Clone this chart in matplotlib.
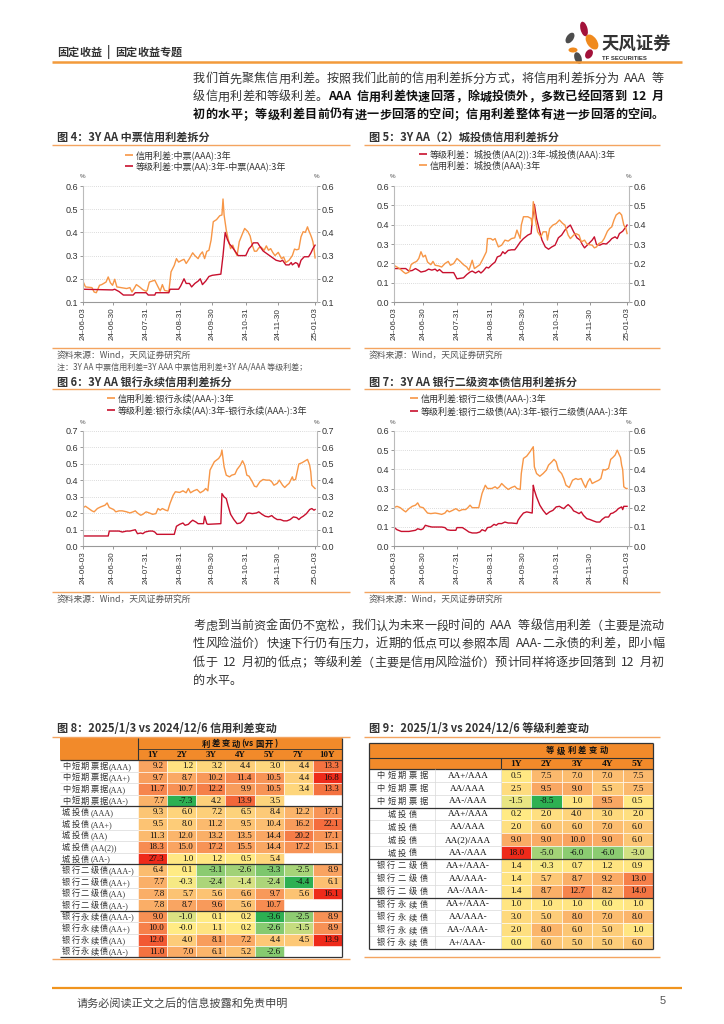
import datetime as dt
import matplotlib
matplotlib.use('Agg')
import matplotlib.pyplot as plt
import matplotlib.dates as mdates
from matplotlib.patches import Rectangle, Ellipse
from matplotlib.lines import Line2D
import matplotlib.colors as mcolors

plt.rcParams['font.family'] = ['Noto Sans CJK SC', 'DejaVu Sans']

# ======================= DATA =======================
tick_dates = ['06-03', '06-30', '07-31', '08-31', '09-30', '10-31', '11-30', '01-03']

# Fig 4: 3Y AA MTN
c4_credit_dates = ['06-03','06-05','06-11','06-13','06-15','06-18','06-20','06-24','06-26','06-28','06-30','07-02','07-04','07-13','07-16','07-18','07-22','07-25','07-28','07-31','08-01','08-03','08-08','08-10','08-13','08-15','08-17','08-21','08-23','08-26','08-28','08-30','09-02','09-04','09-06','09-09','09-12','09-14','09-17','09-19','09-21','09-23','09-25','09-27','09-29','10-01','10-04','10-07','10-09','10-10','10-11','10-13','10-15','10-17','10-19','10-21','10-23','10-25','10-28','10-30','11-02','11-04','11-06','11-08','11-10','11-12','11-14','11-17','11-19','11-21','11-23','11-25','11-27','11-30','12-03','12-05','12-07','12-10','12-13','12-15','12-17','12-19','12-21','12-23','12-25','12-27','12-28','12-30','12-31','01-01','01-02','01-03']
c4_credit = [0.186,0.165,0.162,0.143,0.14,0.172,0.175,0.186,0.208,0.183,0.172,0.198,0.165,0.158,0.162,0.143,0.175,0.165,0.153,0.146,0.15,0.186,0.194,0.175,0.147,0.175,0.15,0.146,0.23,0.258,0.287,0.272,0.28,0.284,0.266,0.287,0.312,0.30,0.287,0.305,0.316,0.287,0.318,0.323,0.367,0.446,0.455,0.472,0.475,0.544,0.475,0.41,0.367,0.33,0.345,0.319,0.30,0.36,0.395,0.417,0.403,0.385,0.345,0.319,0.319,0.333,0.337,0.323,0.342,0.323,0.33,0.313,0.30,0.314,0.287,0.294,0.27,0.28,0.30,0.328,0.325,0.328,0.381,0.403,0.40,0.424,0.41,0.388,0.375,0.36,0.33,0.29]
c4_grade_dates = ['06-03','06-30','07-02','07-06','07-10','07-19','07-21','07-31','08-02','08-08','08-09','08-21','08-22','08-30','09-01','09-04','09-06','09-09','09-11','09-14','09-17','09-19','09-21','09-24','09-27','09-30','10-08','10-10','10-12','10-14','10-16','10-18','10-21','10-24','10-31','11-03','11-05','11-07','11-11','11-13','11-16','11-19','11-22','11-25','11-28','12-02','12-04','12-07','12-10','12-12','12-13','12-16','12-18','12-19','12-21','12-24','12-28','12-30','01-01','01-03']
c4_grade = [0.155,0.152,0.155,0.145,0.13,0.13,0.14,0.14,0.13,0.13,0.14,0.14,0.155,0.155,0.17,0.20,0.18,0.18,0.165,0.18,0.19,0.20,0.175,0.19,0.21,0.215,0.22,0.30,0.40,0.37,0.35,0.34,0.32,0.30,0.30,0.33,0.34,0.355,0.355,0.34,0.32,0.31,0.30,0.29,0.28,0.275,0.28,0.26,0.26,0.27,0.26,0.27,0.265,0.25,0.28,0.295,0.295,0.31,0.33,0.345]

# Fig 5: 3Y AA(2) LGFV
c5_grade_dates = ['06-03','06-14','06-17','06-20','06-23','06-26','06-28','07-02','07-05','07-08','07-11','07-13','07-15','07-18','07-28','07-31','08-06','08-09','08-12','08-14','08-17','08-20','08-22','08-24','08-27','08-29','09-01','09-04','09-06','09-09','09-11','09-13','09-16','09-19','09-22','09-24','09-27','09-30','10-04','10-07','10-08','10-10','10-12','10-15','10-17','10-20','10-23','10-26','10-29','11-01','11-04','11-07','11-10','11-12','11-15','11-18','11-21','11-23','11-25','11-28','12-02','12-04','12-06','12-09','12-12','12-15','12-18','12-20','12-23','12-25','12-27','12-30','01-02','01-03']
c5_grade = [0.173,0.173,0.16,0.163,0.173,0.163,0.155,0.16,0.17,0.165,0.17,0.16,0.168,0.152,0.152,0.12,0.125,0.142,0.155,0.16,0.15,0.16,0.15,0.16,0.18,0.176,0.193,0.207,0.233,0.24,0.26,0.25,0.267,0.27,0.27,0.285,0.31,0.328,0.346,0.354,0.42,0.505,0.432,0.363,0.32,0.285,0.273,0.285,0.294,0.332,0.346,0.372,0.389,0.398,0.363,0.332,0.32,0.297,0.28,0.297,0.32,0.337,0.297,0.294,0.302,0.30,0.315,0.328,0.337,0.328,0.354,0.366,0.389,0.398]
c5_credit_dates = ['06-03','06-06','06-09','06-12','06-14','06-17','06-19','06-21','06-24','06-26','06-28','06-30','07-02','07-04','07-07','07-09','07-11','07-14','07-17','07-20','07-23','07-25','07-28','07-31','08-03','08-06','08-09','08-11','08-14','08-16','08-18','08-21','08-24','08-27','08-28','08-31','09-02','09-04','09-07','09-10','09-13','09-16','09-19','09-22','09-24','09-27','09-28','09-30','10-04','10-07','10-08','10-09','10-11','10-13','10-16','10-18','10-21','10-22','10-24','10-27','10-30','11-02','11-05','11-07','11-10','11-12','11-15','11-17','11-20','11-22','11-25','11-27','11-29','12-02','12-04','12-06','12-08','12-11','12-13','12-16','12-18','12-20','12-22','12-24','12-27','12-29','12-30','12-31','01-02','01-03']
c5_credit = [0.19,0.181,0.17,0.155,0.147,0.155,0.193,0.202,0.21,0.225,0.26,0.233,0.242,0.207,0.193,0.21,0.19,0.187,0.181,0.199,0.21,0.19,0.199,0.225,0.21,0.193,0.181,0.164,0.216,0.173,0.181,0.193,0.225,0.26,0.328,0.328,0.32,0.328,0.285,0.294,0.32,0.315,0.328,0.332,0.372,0.328,0.398,0.441,0.441,0.432,0.398,0.519,0.424,0.363,0.337,0.363,0.363,0.32,0.38,0.398,0.406,0.424,0.406,0.398,0.346,0.328,0.346,0.354,0.346,0.311,0.32,0.302,0.297,0.294,0.28,0.285,0.302,0.311,0.328,0.366,0.38,0.389,0.424,0.45,0.463,0.45,0.424,0.398,0.38,0.354]

# Fig 6: 3Y AA bank perpetual
c6_credit_dates = ['06-03','06-05','06-08','06-11','06-13','06-16','06-19','06-23','06-25','06-27','06-29','07-01','07-03','07-06','07-09','07-13','07-16','07-19','07-21','07-23','07-26','07-28','07-31','08-03','08-06','08-09','08-11','08-13','08-15','08-18','08-20','08-22','08-25','08-27','08-31','09-03','09-06','09-08','09-10','09-13','09-16','09-19','09-22','09-24','09-26','09-28','10-02','10-06','10-08','10-09','10-11','10-13','10-16','10-18','10-21','10-23','10-26','10-28','10-30','11-01','11-03','11-06','11-08','11-10','11-13','11-16','11-19','11-22','11-24','11-26','11-29','12-01','12-04','12-06','12-08','12-10','12-13','12-14','12-16','12-19','12-22','12-25','12-27','12-29','12-30','12-31','01-02','01-03']
c6_credit = [0.234,0.242,0.228,0.214,0.208,0.228,0.238,0.248,0.262,0.234,0.228,0.222,0.208,0.214,0.214,0.208,0.201,0.208,0.214,0.201,0.187,0.193,0.208,0.201,0.193,0.197,0.228,0.218,0.228,0.218,0.214,0.258,0.309,0.33,0.326,0.336,0.324,0.35,0.324,0.336,0.344,0.324,0.336,0.35,0.336,0.462,0.513,0.533,0.553,0.584,0.482,0.431,0.421,0.431,0.437,0.466,0.492,0.519,0.492,0.431,0.425,0.391,0.364,0.36,0.391,0.405,0.401,0.401,0.391,0.37,0.381,0.401,0.37,0.356,0.37,0.381,0.421,0.401,0.405,0.499,0.507,0.519,0.527,0.492,0.452,0.37,0.356,0.35]
c6_grade_dates = ['06-03','06-26','06-27','07-06','07-09','07-13','07-16','07-21','07-23','07-26','07-28','07-30','08-03','08-06','08-08','08-10','08-26','08-28','08-31','09-03','09-05','09-08','09-10','09-12','09-15','09-17','09-22','09-23','09-25','09-26','10-08','10-09','10-11','10-13','10-15','10-17','10-20','10-23','10-26','10-29','11-01','11-03','11-06','11-10','11-12','11-15','11-18','11-21','11-24','11-26','11-29','12-02','12-05','12-08','12-11','12-14','12-17','12-19','12-21','12-23','12-26','12-29','12-31','01-02','01-03']
c6_grade = [0.061,0.061,0.091,0.091,0.085,0.091,0.091,0.099,0.075,0.079,0.075,0.085,0.091,0.091,0.085,0.071,0.071,0.12,0.132,0.14,0.126,0.132,0.146,0.157,0.146,0.136,0.136,0.181,0.136,0.132,0.136,0.319,0.299,0.289,0.238,0.193,0.161,0.136,0.14,0.157,0.197,0.201,0.197,0.201,0.208,0.193,0.181,0.177,0.185,0.173,0.161,0.161,0.153,0.153,0.161,0.177,0.173,0.161,0.173,0.181,0.197,0.222,0.228,0.218,0.222]

# Fig 7: 3Y AA bank tier-2
c7_credit_dates = ['06-03','06-06','06-09','06-12','06-14','06-17','06-20','06-23','06-25','06-27','06-30','07-02','07-04','07-07','07-11','07-14','07-17','07-20','07-22','07-24','07-27','07-30','08-02','08-05','08-08','08-10','08-12','08-14','08-18','08-20','08-23','08-26','08-28','09-01','09-04','09-06','09-08','09-10','09-13','09-16','09-19','09-22','09-24','09-27','09-28','09-30','10-03','10-06','10-09','10-10','10-12','10-15','10-18','10-21','10-23','10-26','10-28','10-30','11-01','11-04','11-06','11-08','11-11','11-14','11-17','11-19','11-22','11-24','11-26','11-28','11-30','12-02','12-05','12-08','12-10','12-12','12-14','12-17','12-19','12-21','12-23','12-25','12-27','12-28','12-29','12-30','12-31','01-02','01-03']
c7_credit = [0.20,0.207,0.20,0.186,0.178,0.195,0.207,0.213,0.225,0.204,0.20,0.186,0.172,0.169,0.172,0.169,0.165,0.172,0.186,0.178,0.186,0.195,0.183,0.19,0.19,0.20,0.213,0.20,0.20,0.20,0.274,0.317,0.30,0.30,0.309,0.30,0.309,0.326,0.309,0.295,0.305,0.312,0.30,0.295,0.378,0.457,0.469,0.492,0.518,0.413,0.378,0.364,0.378,0.396,0.422,0.439,0.452,0.439,0.396,0.378,0.352,0.317,0.305,0.343,0.352,0.347,0.352,0.326,0.305,0.335,0.352,0.326,0.335,0.343,0.352,0.399,0.396,0.405,0.452,0.462,0.474,0.50,0.474,0.462,0.422,0.399,0.309,0.30,0.30]
c7_grade_dates = ['06-03','06-06','06-10','06-17','06-23','06-25','06-28','06-30','07-02','07-05','07-08','07-17','07-20','07-22','07-25','07-30','07-31','08-05','08-08','08-11','08-14','08-18','08-21','08-23','08-26','08-28','08-31','09-03','09-05','09-07','09-10','09-13','09-16','09-19','09-24','09-25','09-27','09-30','10-03','10-08','10-09','10-10','10-12','10-15','10-18','10-21','10-24','10-27','10-30','11-02','11-04','11-06','11-08','11-10','11-13','11-15','11-17','11-20','11-22','11-24','11-27','11-30','12-03','12-06','12-09','12-11','12-14','12-17','12-19','12-21','12-24','12-26','12-29','12-30','12-31','01-02','01-03']
c7_grade = [0.099,0.085,0.076,0.076,0.082,0.09,0.085,0.09,0.108,0.103,0.099,0.099,0.096,0.085,0.082,0.082,0.096,0.096,0.085,0.073,0.068,0.068,0.073,0.085,0.078,0.096,0.099,0.113,0.108,0.117,0.117,0.125,0.12,0.12,0.117,0.134,0.151,0.172,0.178,0.172,0.317,0.291,0.256,0.213,0.186,0.165,0.178,0.186,0.204,0.207,0.20,0.195,0.207,0.216,0.20,0.183,0.178,0.169,0.178,0.16,0.143,0.138,0.131,0.125,0.125,0.138,0.151,0.151,0.169,0.172,0.183,0.195,0.204,0.19,0.207,0.207,0.207]

# Table 8: credit spread change (vs CDB), bp
t8_cols = ['1Y', '2Y', '3Y', '4Y', '5Y', '7Y', '10Y']
t8_rows = ['中短期票据(AAA)', '中短期票据(AA+)', '中短期票据(AA)', '中短期票据(AA-)',
           '城投债(AAA)', '城投债(AA+)', '城投债(AA)', '城投债(AA(2))', '城投债(AA-)',
           '银行二级债(AAA-)', '银行二级债(AA+)', '银行二级债(AA)', '银行二级债(AA-)',
           '银行永续债(AAA-)', '银行永续债(AA+)', '银行永续债(AA)', '银行永续债(AA-)']
t8_vals = [
    [9.2, 1.2, 3.2, 4.4, 3.0, 4.4, 13.3],
    [9.7, 8.7, 10.2, 11.4, 10.5, 4.4, 16.8],
    [11.7, 10.7, 12.2, 9.9, 10.5, 3.4, 13.3],
    [7.7, -7.3, 4.2, 13.9, 3.5, None, None],
    [9.3, 6.0, 7.2, 6.5, 8.4, 12.2, 17.1],
    [9.5, 8.0, 11.2, 9.5, 10.4, 16.2, 22.1],
    [11.3, 12.0, 13.2, 13.5, 14.4, 20.2, 17.1],
    [18.3, 15.0, 17.2, 15.5, 14.4, 17.2, 15.1],
    [27.3, 1.0, 1.2, 0.5, 5.4, None, None],
    [6.4, 0.1, -3.1, -2.6, -3.3, -2.5, 8.9],
    [7.7, -0.3, -2.4, -1.4, -2.4, -4.4, 6.1],
    [7.8, 5.7, 5.6, 6.6, 9.7, 5.6, 16.1],
    [7.8, 8.7, 9.6, 5.6, 10.7, None, None],
    [9.0, -1.0, 0.1, 0.2, -3.6, -2.5, 8.9],
    [10.0, -0.0, 1.1, 0.2, -2.6, -1.5, 8.9],
    [12.0, 4.0, 8.1, 7.2, 4.4, 4.5, 13.9],
    [11.0, 7.0, 6.1, 5.2, -2.6, None, None],
]
t8_groups = [4, 5, 4, 4]

# Table 9: grade spread change, bp
t9_cols = ['1Y', '2Y', '3Y', '4Y', '5Y']
t9_type = ['中短期票据'] * 3 + ['城投债'] * 4 + ['银行二级债'] * 3 + ['银行永续债'] * 4
t9_pair = ['AA+/AAA', 'AA/AAA', 'AA-/AAA', 'AA+/AAA', 'AA/AAA', 'AA(2)/AAA', 'AA-/AAA',
           'AA+/AAA-', 'AA/AAA-', 'AA-/AAA-', 'AA+/AAA-', 'AA/AAA-', 'AA-/AAA-', 'A+/AAA-']
t9_vals = [
    [0.5, 7.5, 7.0, 7.0, 7.5],
    [2.5, 9.5, 9.0, 5.5, 7.5],
    [-1.5, -8.5, 1.0, 9.5, 0.5],
    [0.2, 2.0, 4.0, 3.0, 2.0],
    [2.0, 6.0, 6.0, 7.0, 6.0],
    [9.0, 9.0, 10.0, 9.0, 6.0],
    [18.0, -5.0, -6.0, -6.0, -3.0],
    [1.4, -0.3, 0.7, 1.2, 0.9],
    [1.4, 5.7, 8.7, 9.2, 13.0],
    [1.4, 8.7, 12.7, 8.2, 14.0],
    [1.0, 1.0, 1.0, 0.0, 1.0],
    [3.0, 5.0, 8.0, 7.0, 8.0],
    [2.0, 8.0, 6.0, 5.0, 1.0],
    [0.0, 6.0, 5.0, 5.0, 6.0],
]
t9_groups = [3, 4, 3, 4]

# ======================= SETUP =======================
W, H = 724, 1024
fig = plt.figure(figsize=(W / 100, H / 100), dpi=100)
fig.patch.set_facecolor('white')
base = fig.add_axes([0, 0, 1, 1])
base.set_xlim(0, W)
base.set_ylim(H, 0)
base.set_autoscale_on(False)
base.axis('off')
renderer = fig.canvas.get_renderer()

CJK = ['Noto Sans CJK SC', 'DejaVu Sans']
SERIF = ['Liberation Serif', 'Noto Sans CJK SC']
ORANGE = '#F79646'
RED = '#C8102E'
RULE = '#F4A460'
HDR = '#F28A2A'


def pdate(s):
    m, d = map(int, s.split('-'))
    return dt.datetime(2025 if m == 1 else 2024, m, d)


def tokenize(text):
    toks, buf = [], ''
    for ch in text:
        if ch.isascii() and ch != ' ':
            buf += ch
        else:
            if buf:
                toks.append(buf)
                buf = ''
            toks.append(ch)
    if buf:
        toks.append(buf)
    return toks


def char_run(x0, yc, segs, x1=None, size=9, color='#222', spacing=0.0,
             family=None, align='left', space_em=0.45):
    fam = family or CJK
    objs, widths = [], []
    px = size * 100 / 72
    yb = yc + 0.36 * px
    for seg in segs:
        text, bold = seg[0], seg[1]
        col = seg[2] if len(seg) > 2 else color
        for tok in tokenize(text):
            t = base.text(0, yb, tok, fontsize=size, fontweight='bold' if bold else 'normal',
                          color=col, family=fam, ha='left', va='baseline')
            if tok == ' ':
                w = space_em * px
            else:
                w = t.get_window_extent(renderer).width
            objs.append(t)
            widths.append(w)
    n = len(objs)
    if x1 is not None and n > 1:
        gap = (x1 - x0 - sum(widths)) / (n - 1)
    else:
        gap = spacing
    total = sum(widths) + gap * (n - 1)
    x = x0 - total / 2 if align == 'center' else x0
    for t, w in zip(objs, widths):
        t.set_x(x)
        x += w + gap
    return total


def hline(x0, x1, y, color, lw):
    base.add_line(Line2D([x0, x1], [y, y], color=color, lw=lw, solid_capstyle='butt'))


def vline(x, y0, y1, color, lw):
    base.add_line(Line2D([x, x], [y0, y1], color=color, lw=lw, solid_capstyle='butt'))


# ======================= HEADER =======================
char_run(57, 52, [('固定收益 | 固定收益专题', True)], size=8, color='#333')
hline(52, 682, 62, '#F39A3B', 1.8)
for (cx, cy, w, h, ang, col) in [(584, 29, 7, 15, -15, '#A3123A'), (592, 42, 10, 17, -35, '#F08A1E'),
                                 (570, 38, 7, 12, 35, '#4D4D4D'), (573, 50, 9, 5, 0, '#F08A1E'),
                                 (589, 54, 7, 10, 30, '#A3123A'), (578, 58, 7, 12, -20, '#4D4D4D')]:
    base.add_patch(Ellipse((cx, cy), w, h, angle=ang, fc=col, ec='none'))
base.text(601, 45, '天风证券', fontsize=12.5, fontweight='bold', color='#333', family=CJK, va='center')
base.text(602, 58, 'TF SECURITIES', fontsize=4.3, fontweight='bold', color='#333', family='Liberation Sans', va='center')

# ======================= PARAGRAPH 1 =======================
P_X0, P_X1 = 193, 664
char_run(P_X0, 78, [('我们首先聚焦信用利差。按照我们此前的信用利差拆分方式，将信用利差拆分为 AAA 等', False, '#333')],
         x1=P_X1, size=8.7)
char_run(P_X0, 96, [('级信用利差和等级利差。', False, '#333'),
                    ('AAA 信用利差快速回落，除城投债外，多数已经回落到 12 月', True, '#111')], x1=P_X1, size=8.7)
char_run(P_X0, 114, [('初的水平；等级利差目前仍有进一步回落的空间；信用利差整体有进一步回落的空间。', True, '#111')],
         x1=P_X1, size=8.7)


# ======================= CHARTS =======================
def chart(l, t, r, b, ylim, yticks, series, title, title_y, leg_y, leg_x, src_y, line_top, line_bot,
          frame_x0, frame_x1):
    base.text(frame_x0 + 5, title_y, title, fontsize=8, fontweight='bold', color='#333', family=CJK, va='center')
    hline(frame_x0, frame_x1, line_top, RULE, 1.0)
    hline(frame_x0, frame_x1, line_bot, RULE, 1.0)
    base.text(frame_x0 + 5, src_y, '资料来源：Wind，天风证券研究所', fontsize=6.3, color='#555', family=CJK, va='center')

    ax = fig.add_axes([l / W, 1 - b / H, (r - l) / W, (b - t) / H])
    ax.set_facecolor('none')
    for dates, vals, col, lab in series:
        ax.plot([pdate(s) for s in dates], vals, color=col, lw=1.0, label=lab)
    ax.set_ylim(*ylim)
    ax.set_xlim(pdate('06-03'), pdate('01-03') + dt.timedelta(days=1.5))
    ax.set_yticks(yticks)
    ax.set_yticklabels([f'{v:.1f}' for v in yticks])
    ax.set_xticks([pdate(s) for s in tick_dates])
    ax.xaxis.set_major_formatter(mdates.DateFormatter('%y-%m-%d'))
    ax.yaxis.grid(True, ls=(0, (1, 1.5)), color='#CFCFCF', lw=0.6)
    ax.set_axisbelow(True)
    ax.tick_params(axis='both', direction='out', length=2, width=0.6, color='#888', labelcolor='#333', pad=1.5)
    ax.tick_params(axis='y', labelsize=6.5)
    ax.tick_params(axis='x', labelsize=5.9, rotation=90, pad=2)
    for lab in ax.get_yticklabels() + ax.get_xticklabels():
        lab.set_fontfamily('Liberation Sans')
    ax.spines['top'].set_visible(False)
    ax.spines['right'].set_visible(False)
    ax.spines['left'].set_color('#BBBBBB')
    ax.spines['bottom'].set_color('#999999')
    ax.spines['left'].set_linewidth(0.8)
    ax.spines['bottom'].set_linewidth(0.8)

    ax2 = ax.twinx()
    ax2.set_ylim(*ylim)
    ax2.set_yticks(yticks)
    ax2.set_yticklabels([f'{v:.1f}' for v in yticks])
    ax2.tick_params(axis='y', direction='out', length=2, width=0.6, color='#888', labelcolor='#333',
                    labelsize=6.5, pad=1.5)
    for lab in ax2.get_yticklabels():
        lab.set_fontfamily('Liberation Sans')
    for s in ['top', 'left', 'bottom']:
        ax2.spines[s].set_visible(False)
    ax2.spines['right'].set_color('#BBBBBB')
    ax2.spines['right'].set_linewidth(0.8)

    base.text(l - 1, t - 9, '%', fontsize=4.5, color='#555', ha='center', va='center', family='Liberation Sans')
    base.text(r, t - 9, '%', fontsize=4.5, color='#555', ha='center', va='center', family='Liberation Sans')

    # legend drawn in the same style as the plotted lines
    for k, (dates, vals, col, lab) in enumerate(series):
        y = leg_y[k]
        hline(leg_x, leg_x + 8, y, col, 1.2)
        base.text(leg_x + 11, y, lab, fontsize=6.5, color='#333', family=CJK, va='center')
    return ax


# Fig 4
chart(83.3, 186, 316.7, 302, (0.1, 0.6), [0.1, 0.2, 0.3, 0.4, 0.5, 0.6],
      [(c4_credit_dates, c4_credit, ORANGE, '信用利差:中票(AAA):3年'),
       (c4_grade_dates, c4_grade, RED, '等级利差:中票(AA):3年-中票(AAA):3年')],
      '图 4：3Y AA 中票信用利差拆分', 137, [155, 166], 125, 355, 145, 348, 52, 350)
base.text(57, 367, '注：3Y AA 中票信用利差=3Y AAA 中票信用利差+3Y AA/AAA 等级利差；', fontsize=5.8,
          color='#555', family=CJK, va='center')

# Fig 5
chart(393.7, 186, 628.7, 302, (0.0, 0.6), [0.0, 0.1, 0.2, 0.3, 0.4, 0.5, 0.6],
      [(c5_grade_dates, c5_grade, RED, '等级利差：城投债(AA(2)):3年-城投债(AAA):3年'),
       (c5_credit_dates, c5_credit, ORANGE, '信用利差：城投债(AAA):3年')],
      '图 5：3Y AA（2）城投债信用利差拆分', 137, [154, 165], 419, 355, 145, 348, 364, 660)

# Fig 6
chart(83.3, 431, 316.7, 546, (0.0, 0.7), [0.0, 0.1, 0.2, 0.3, 0.4, 0.5, 0.6, 0.7],
      [(c6_credit_dates, c6_credit, ORANGE, '信用利差:银行永续(AAA-):3年'),
       (c6_grade_dates, c6_grade, RED, '等级利差:银行永续(AA):3年-银行永续(AAA-):3年')],
      '图 6：3Y AA 银行永续信用利差拆分', 382, [398, 410], 107, 599, 389, 592, 52, 350)

# Fig 7
chart(393.7, 431, 628.7, 546, (0.0, 0.6), [0.0, 0.1, 0.2, 0.3, 0.4, 0.5, 0.6],
      [(c7_credit_dates, c7_credit, ORANGE, '信用利差:银行二级债(AAA-):3年'),
       (c7_grade_dates, c7_grade, RED, '等级利差:银行二级债(AA):3年-银行二级债(AAA-):3年')],
      '图 7：3Y AA 银行二级资本债信用利差拆分', 382, [398, 411], 410, 599, 389, 592, 364, 660)

# ======================= PARAGRAPH 2 =======================
char_run(P_X0, 625, [('考虑到当前资金面仍不宽松，我们认为未来一段时间的 AAA 等级信用利差（主要是流动', False, '#333')],
         x1=P_X1, size=8.7)
char_run(P_X0, 643, [('性风险溢价）快速下行仍有压力，近期的低点可以参照本周 AAA-二永债的利差，即小幅', False, '#333')],
         x1=P_X1, size=8.7)
char_run(P_X0, 662, [('低于 12 月初的低点；等级利差（主要是信用风险溢价）预计同样将逐步回落到 12 月初', False, '#333')],
         x1=P_X1, size=8.7)
char_run(P_X0, 680, [('的水平。', False, '#333')], size=8.7)

# ======================= TABLE COLOURS =======================
POS = mcolors.LinearSegmentedColormap.from_list('pos', [(0, '#FFEB84'), (0.3, '#FDCB78'), (0.55, '#F9A461'),
                                                        (0.8, '#F4703F'), (1.0, '#EE2A1A')])
NEG = mcolors.LinearSegmentedColormap.from_list('neg', [(0, '#FFEB84'), (0.35, '#D2E082'), (0.7, '#8DCC72'),
                                                        (1.0, '#2DB052')])


def cell_color(v, vmin, vmax):
    if v >= 0:
        return POS(min(v / vmax, 1.0))
    return NEG(min(v / vmin, 1.0)) if vmin < 0 else NEG(0)


# ======================= TABLE 8 =======================
base.text(57, 729, '图 8：2025/1/3 vs 2024/12/6 信用利差变动', fontsize=8, fontweight='bold', color='#333',
          family=CJK, va='center')
hline(52, 350, 737, RULE, 1.0)
X0, XD, X1 = 60, 138, 342
Y0, YH1, YH2 = 738, 749, 760
RH = 11.6
cw = (X1 - XD) / len(t8_cols)
base.add_patch(Rectangle((X0, Y0), X1 - X0, YH2 - Y0, fc=HDR, ec='none'))
char_run((XD + X1) / 2, (Y0 + YH1) / 2, [('利差变动(vs国开)', True, '#111')], size=6, spacing=1.5,
         align='center')
for j, c in enumerate(t8_cols):
    base.text(XD + cw * (j + 0.5), (YH1 + YH2) / 2 + 0.3, c, ha='center', va='center', fontsize=6.5,
              fontweight='bold', family='Liberation Serif', color='#111')
vline(XD, Y0, YH2, '#333', 0.8)
hline(XD, X1, YH1, '#333', 0.6)
hline(X0, X1, YH2, '#333', 0.9)
bounds = []
s = 0
for g in t8_groups:
    bounds.append((s, s + g))
    s += g
for (a, bnd) in bounds:
    vals = [v for row in t8_vals[a:bnd] for v in row if v is not None]
    vmin, vmax = min(vals), max(vals)
    for i in range(a, bnd):
        y = YH2 + i * RH
        hline(X0, XD, y + RH, '#D9D9D9', 0.5)
        char_run(62, y + RH / 2, [(t8_rows[i], False, '#333')], size=5.9, spacing=1.3, family=SERIF)
        for j, v in enumerate(t8_vals[i]):
            if v is None:
                continue
            base.add_patch(Rectangle((XD + j * cw, y), cw, RH, fc=cell_color(v, vmin, vmax), ec='white', lw=0.4))
            base.text(XD + (j + 1) * cw - 3, y + RH / 2 + 0.3, f'{v:.1f}', ha='right', va='center',
                      fontsize=6.5, family='Liberation Serif', color='#111')
for (a, bnd) in bounds[:-1]:
    hline(X0, X1, YH2 + bnd * RH, '#333', 0.9)
Yend = YH2 + len(t8_rows) * RH
hline(X0, X1, Yend, '#333', 0.9)
vline(X1, Y0, Yend, '#333', 0.9)
hline(52, 350, Yend + 1.5, RULE, 1.0)

# ======================= TABLE 9 =======================
base.text(369, 729, '图 9：2025/1/3 vs 2024/12/6 等级利差变动', fontsize=8, fontweight='bold', color='#333',
          family=CJK, va='center')
hline(364, 660, 737, RULE, 1.0)
A0, A1, AD, A9 = 369, 435, 501, 653
B0, BH1, BH2 = 743, 757.7, 769
RH9 = 12.85
cw9 = (A9 - AD) / len(t9_cols)
base.add_patch(Rectangle((A0, B0), A9 - A0, BH2 - B0, fc=HDR, ec='none'))
char_run((AD + A9) / 2, (B0 + BH1) / 2, [('等级利差变动', True, '#111')], size=6, spacing=2.5, align='center')
for j, c in enumerate(t9_cols):
    base.text(AD + cw9 * (j + 0.5), (BH1 + BH2) / 2 + 0.3, c, ha='center', va='center', fontsize=6.8,
              fontweight='bold', family='Liberation Serif', color='#111')
hline(A0, A9, B0, '#333', 0.9)
hline(A0, A9, BH1, '#333', 0.8)
hline(A0, A9, BH2, '#333', 0.9)
vline(AD, BH1, BH2, '#333', 0.8)
allv = [v for row in t9_vals for v in row]
vmin9, vmax9 = min(allv), max(allv)
for i in range(len(t9_pair)):
    y = BH2 + i * RH9
    hline(A0, AD, y + RH9, '#D9D9D9', 0.5)
    char_run((A0 + A1) / 2, y + RH9 / 2, [(t9_type[i], False, '#333')], size=5.9, spacing=2.6,
             family=SERIF, align='center')
    base.text((A1 + AD) / 2, y + RH9 / 2 + 0.3, t9_pair[i], ha='center', va='center', fontsize=6.6,
              family='Liberation Serif', color='#111')
    for j, v in enumerate(t9_vals[i]):
        base.add_patch(Rectangle((AD + j * cw9, y), cw9, RH9, fc=cell_color(v, vmin9, vmax9), ec='white', lw=0.4))
        base.text(AD + (j + 0.5) * cw9, y + RH9 / 2 + 0.3, f'{v:.1f}', ha='center', va='center',
                  fontsize=6.6, family='Liberation Serif', color='#111')
Yend9 = BH2 + len(t9_pair) * RH9
vline(A1, BH2, Yend9, '#D9D9D9', 0.5)
vline(AD, BH2, Yend9, '#D9D9D9', 0.5)
s = 0
for g in t9_groups[:-1]:
    s += g
    hline(A0, A9, BH2 + s * RH9, '#333', 0.9)
hline(A0, A9, Yend9, '#333', 0.9)
vline(A0, B0, Yend9, '#333', 0.9)
vline(A9, B0, Yend9, '#333', 0.9)
hline(364, 660, Yend9 + 8, RULE, 1.0)

# ======================= FOOTER =======================
hline(52, 682, 988, '#F0941E', 1.6)
base.text(77, 1003, '请务必阅读正文之后的信息披露和免责申明', fontsize=8, color='#444', family=CJK, va='center')
base.text(660, 1001, '5', fontsize=8, color='#555', family='Liberation Sans', va='center')

fig.savefig('out.png', dpi=100, facecolor='white')
